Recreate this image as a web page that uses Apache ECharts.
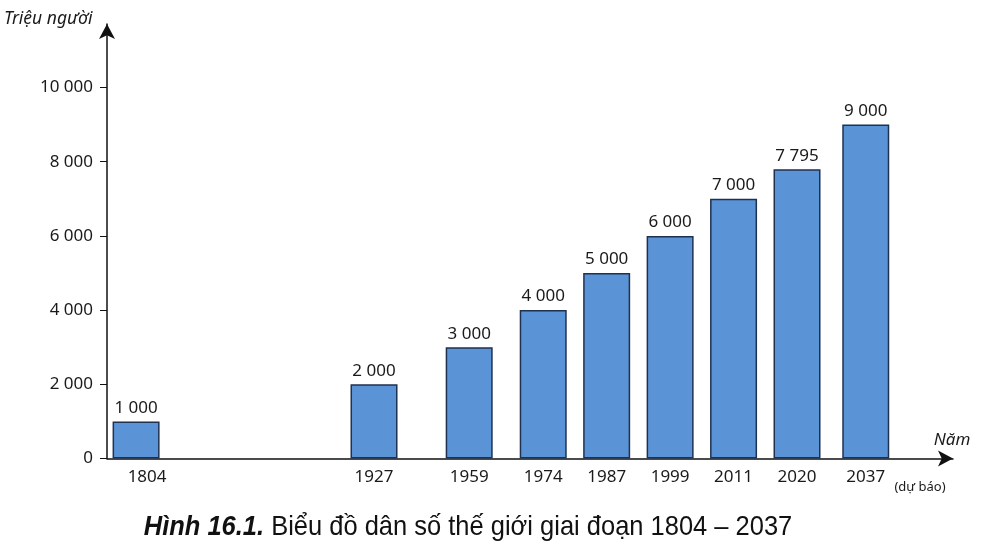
<!DOCTYPE html>
<html>
<head>
<meta charset="utf-8">
<script src="https://cdn.jsdelivr.net/npm/echarts@6/dist/echarts.min.js"></script>
<style>
  html, body { margin: 0; padding: 0; background: #fff; }
  #chart { width: 983px; height: 553px; }
</style>
</head>
<body>
<div id="chart"></div>
<script>
// ---- data ----
const years = ['1804', '1927', '1959', '1974', '1987', '1999', '2011', '2020', '2037'];
const population = [1000, 2000, 3000, 4000, 5000, 6000, 7000, 7795, 9000];
const yTicks = [0, 2000, 4000, 6000, 8000, 10000];

// ---- layout: the source figure spaces the years unevenly, so the
// category axis is split into narrow slots and each year sits in its slot ----
const SLOT_COUNT = 160;
const yearSlot = [5, 50, 68, 82, 94, 106, 118, 130, 143];

const cats = new Array(SLOT_COUNT).fill('');
const barData = new Array(SLOT_COUNT).fill('-');
years.forEach((y, i) => { cats[yearSlot[i]] = y; barData[yearSlot[i]] = population[i]; });

const fmt = v => String(v).replace(/\B(?=(\d{3})+(?!\d))/g, ' ');
const FONT = '"Noto Sans", "Open Sans", sans-serif';
const CAPFONT = '"Liberation Sans", Arial, sans-serif';

const chart = echarts.init(document.getElementById('chart'), null, { renderer: 'canvas' });
chart.setOption({
  backgroundColor: '#ffffff',
  animation: false,
  grid: { left: 107, right: 30, top: 24, bottom: 94.5 },
  xAxis: {
    type: 'category',
    data: cats,
    boundaryGap: true,
    axisLine: {
      show: true,
      symbol: ['none', 'arrow'],
      symbolSize: [12, 15],
      lineStyle: { color: '#111', width: 1.5 }
    },
    axisTick: { show: false },
    axisLabel: {
      interval: 0,
      margin: 10,
      color: '#1a1a1a',
      fontSize: 17,
      fontFamily: FONT,
      formatter: v => (v === years[0] ? '{s|' + v + '}' : v),
      rich: { s: { padding: [0, 0, 0, 22], fontSize: 17, fontFamily: FONT, color: '#1a1a1a' } }
    },
    splitLine: { show: false }
  },
  yAxis: {
    type: 'value',
    min: 0,
    max: 11712,
    axisLine: {
      show: true,
      symbol: ['none', 'arrow'],
      symbolSize: [12, 15],
      lineStyle: { color: '#111', width: 1.5 }
    },
    axisTick: { show: true, length: 7, customValues: yTicks, lineStyle: { color: '#111', width: 1 } },
    axisLabel: {
      customValues: yTicks,
      margin: 14,
      color: '#1a1a1a',
      fontSize: 17,
      fontFamily: FONT,
      formatter: v => (v % 2000 === 0 ? fmt(v) : '')
    },
    splitLine: { show: false }
  },
  series: [{
    type: 'bar',
    data: barData,
    barWidth: 47,
    itemStyle: { color: '#5b94d6', borderColor: '#1f3150', borderWidth: 1.5 },
    label: {
      show: true,
      position: 'top',
      distance: 5,
      color: '#1a1a1a',
      fontSize: 17,
      fontFamily: FONT,
      formatter: p => fmt(p.value)
    }
  }],
  graphic: [
    { type: 'text', left: 4, top: 10,
      style: { text: 'Triệu người', fontSize: 17.5, fontStyle: 'italic', fontFamily: FONT, fill: '#1a1a1a' } },
    { type: 'text', x: 952, y: 440,
      style: { text: 'Năm', fontSize: 17, fontStyle: 'italic', fontFamily: FONT, fill: '#1a1a1a', align: 'center', verticalAlign: 'middle' } },
    { type: 'text', x: 920, y: 487,
      style: { text: '(dự báo)', fontSize: 13, fontFamily: FONT, fill: '#1a1a1a', align: 'center', verticalAlign: 'middle' } },
    { type: 'text', x: 468, y: 527, scaleX: 0.91,
      style: {
        text: '{b|Hình 16.1.} Biểu đồ dân số thế giới giai đoạn 1804 – 2037',
        fontSize: 28, fontFamily: CAPFONT,
        fill: '#111', align: 'center', verticalAlign: 'middle',
        rich: { b: { fontSize: 28, fontWeight: 'bold', fontStyle: 'italic', fontFamily: CAPFONT, fill: '#111' } }
      } }
  ]
});
</script>
</body>
</html>
